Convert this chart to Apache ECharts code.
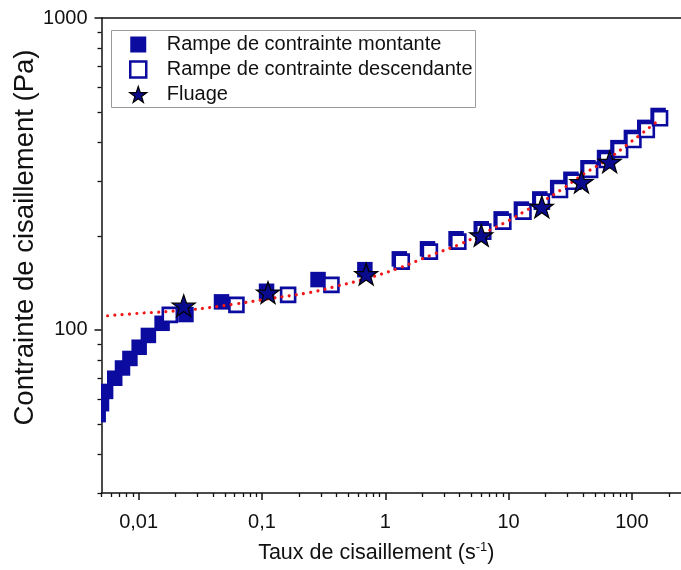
<!DOCTYPE html>
<html>
<head>
<meta charset="utf-8">
<script src="https://cdn.jsdelivr.net/npm/echarts@6/dist/echarts.min.js"></script>
<style>
html,body{margin:0;padding:0;background:#fff;}
#chart{width:681px;height:570px;}
</style>
</head>
<body>
<div id="chart"></div>
<script>
// ---- data ----
const rampUpX = [0.0047, 0.0050, 0.0054, 0.0064, 0.0074, 0.0085, 0.0101, 0.0120, 0.0155, 0.0242, 0.047, 0.109, 0.285, 0.683, 1.30, 2.2, 3.75, 6.0, 8.7, 12.7, 17.9, 25, 32, 44, 60, 77, 99, 127, 163];
const rampUpY = [53.5, 58, 63.5, 70, 75.5, 81, 88, 96, 105, 112, 123, 133, 145, 156, 169, 182, 196, 211, 227, 244, 263, 286, 304, 331, 357, 384, 414, 446, 487];

const rampDownX = [0.0179, 0.0621, 0.163, 0.366, 1.36, 2.30, 3.91, 6.23, 9.06, 13.2, 18.6, 26.1, 33.5, 45.8, 62.6, 80.2, 102.8, 132, 169];
const rampDownY = [111.7, 120.3, 129.5, 139.4, 165.5, 178.2, 191.9, 206.6, 222.4, 239.4, 257.8, 281, 298.7, 325.8, 350.7, 377.6, 406.3, 437.5, 477];

const creepX = [0.0232, 0.112, 0.70, 6.0, 18.6, 39, 66];
const creepY = [119.6, 131.7, 151, 201, 248, 298, 346];

const fitX = [0.0056, 0.01, 0.026, 0.06, 0.116, 0.25, 0.4, 0.7, 1.3, 2.3, 4, 6.2, 10, 14, 20, 28, 40, 62, 100, 164];
const fitY = [111, 113, 116, 121, 126, 132, 138, 146, 158, 173, 188, 204, 224, 242, 262, 285, 315, 350, 403, 469];

const xMajorTicks = [0.01, 0.1, 1, 10, 100];
const xMinorTicks = [0.005, 0.006, 0.007, 0.008, 0.009,
  0.02, 0.03, 0.04, 0.05, 0.06, 0.07, 0.08, 0.09,
  0.2, 0.3, 0.4, 0.5, 0.6, 0.7, 0.8, 0.9,
  2, 3, 4, 5, 6, 7, 8, 9,
  20, 30, 40, 50, 60, 70, 80, 90, 200];
const yMajorTicks = [100, 1000];
const yMinorTicks = [30, 40, 50, 60, 70, 80, 90, 200, 300, 400, 500, 600, 700, 800, 900];

const names = ['Rampe de contrainte montante', 'Rampe de contrainte descendante', 'Fluage'];
const xTitle = 'Taux de cisaillement (s';
const yTitle = 'Contrainte de cisaillement (Pa)';

// ---- styling ----
const FONT = '"Liberation Sans", Arial, Helvetica, sans-serif';
const NAVY = '#0b0ba0';
const AX = '#111';
const STAR = 'path://M50,0 L61.8,35.1 L98.1,35.1 L68.8,56.7 L79.4,91 L50,70 L20.6,91 L31.2,56.7 L1.9,35.1 L38.2,35.1 Z';
const SQUARE = 'path://M0,0 L10,0 L10,10 L0,10 Z';
const zip = (a, b) => a.map((v, i) => [v, b[i]]);
const fmt = v => String(+Number(v).toPrecision(6)).replace('.', ',');

const chart = echarts.init(document.getElementById('chart'), null, {renderer: 'canvas'});

const xBase = {type: 'log', logBase: 10, min: 0.005, max: 250, gridIndex: 0, splitLine: {show: false}, minorTick: {show: false}, minorSplitLine: {show: false}};
const yBase = {type: 'log', logBase: 10, min: 30, max: 1000, gridIndex: 0, splitLine: {show: false}, minorTick: {show: false}, minorSplitLine: {show: false}};

const option = {
  animation: false,
  backgroundColor: '#fff',
  textStyle: {fontFamily: FONT},
  grid: {left: 101.5, right: 0, top: 18, bottom: 77, containLabel: false, outerBoundsMode: 'none'},
  legend: {
    orient: 'vertical',
    left: 111.5, top: 30.5,
    padding: [4, 3, 3, 17.5],
    itemGap: 5,
    itemWidth: 47, itemHeight: 16,
    borderColor: '#9a9a9a', borderWidth: 1,
    symbolKeepAspect: true,
    textStyle: {fontFamily: FONT, fontSize: 20, color: '#111'},
    data: [
      {name: names[0], icon: SQUARE, itemStyle: {color: NAVY, borderWidth: 0}},
      {name: names[1], icon: SQUARE, itemStyle: {color: '#fff', borderColor: NAVY, borderWidth: 2.5}},
      {name: names[2], icon: STAR, itemStyle: {color: '#0a0a8c', borderColor: '#000', borderWidth: 1.2}}
    ]
  },
  xAxis: [
    Object.assign({}, xBase, {
      position: 'bottom',
      name: '{n|' + xTitle + '}{s|-1}{n|)}',
      nameLocation: 'middle', nameGap: 48,
      nameMoveOverlap: false,
      nameTextStyle: {
        padding: [0, 30, 0, 0],
        rich: {
          n: {fontFamily: FONT, fontSize: 21.5, color: '#111', lineHeight: 24},
          s: {fontFamily: FONT, fontSize: 13, color: '#111', lineHeight: 13, verticalAlign: 'top'}
        }
      },
      axisLine: {show: true, lineStyle: {color: AX, width: 1.5}},
      axisTick: {show: true, inside: false, length: 7, customValues: xMajorTicks, lineStyle: {color: AX, width: 1.5}},
      axisLabel: {show: true, customValues: xMajorTicks, formatter: fmt, margin: 19, fontFamily: FONT, fontSize: 20, color: '#111'}
    }),
    Object.assign({}, xBase, {
      position: 'bottom',
      axisLine: {show: false},
      axisTick: {show: true, inside: false, length: 4, customValues: xMinorTicks, lineStyle: {color: AX, width: 1.3}},
      axisLabel: {show: false}
    }),
    Object.assign({}, xBase, {
      position: 'top',
      axisLine: {show: true, lineStyle: {color: AX, width: 1.5}},
      axisTick: {show: false},
      axisLabel: {show: false}
    })
  ],
  yAxis: [
    Object.assign({}, yBase, {
      position: 'left',
      name: yTitle,
      nameLocation: 'middle', nameGap: 62,
      nameMoveOverlap: false,
      nameTextStyle: {fontFamily: FONT, fontSize: 27.5, color: '#111', padding: [0, 0, 0, 36]},
      axisLine: {show: true, lineStyle: {color: AX, width: 1.5}},
      axisTick: {show: true, inside: false, length: 7, customValues: yMajorTicks, lineStyle: {color: AX, width: 1.5}},
      axisLabel: {show: true, customValues: yMajorTicks, formatter: fmt, margin: 14, fontFamily: FONT, fontSize: 20, color: '#111'}
    }),
    Object.assign({}, yBase, {
      position: 'left',
      axisLine: {show: false},
      axisTick: {show: true, inside: false, length: 4, customValues: yMinorTicks, lineStyle: {color: AX, width: 1.3}},
      axisLabel: {show: false}
    })
  ],
  series: [
    {
      name: names[0],
      type: 'custom',
      coordinateSystem: 'cartesian2d',
      xAxisIndex: 0, yAxisIndex: 0,
      clip: true,
      z: 2,
      itemStyle: {color: NAVY},
      encode: {x: 0, y: 1},
      data: zip(rampUpX, rampUpY),
      renderItem: function (params, api) {
        const p = api.coord([api.value(0), api.value(1)]);
        const s = 15.5;
        return {type: 'rect', shape: {x: p[0] - s / 2, y: p[1] - s / 2, width: s, height: s}, style: {fill: NAVY}};
      }
    },
    {
      name: names[1],
      type: 'scatter',
      xAxisIndex: 0, yAxisIndex: 0,
      z: 3,
      symbol: 'rect',
      symbolSize: 14,
      itemStyle: {color: '#fff', borderColor: NAVY, borderWidth: 2.6, opacity: 1},
      data: zip(rampDownX, rampDownY)
    },
    {
      name: 'fit',
      type: 'line',
      xAxisIndex: 0, yAxisIndex: 0,
      z: 4,
      smooth: 0.4,
      showSymbol: false,
      symbol: 'none',
      silent: true,
      lineStyle: {color: '#f01818', width: 3.2, type: [0.01, 7.3], cap: 'round'},
      data: zip(fitX, fitY)
    },
    {
      name: names[2],
      type: 'scatter',
      xAxisIndex: 0, yAxisIndex: 0,
      z: 5,
      symbol: STAR,
      symbolKeepAspect: true,
      symbolSize: 23,
      itemStyle: {color: '#0a0a8c', borderColor: '#000', borderWidth: 1.2, opacity: 1},
      data: zip(creepX, creepY)
    }
  ]
};
chart.setOption(option);
</script>
</body>
</html>
